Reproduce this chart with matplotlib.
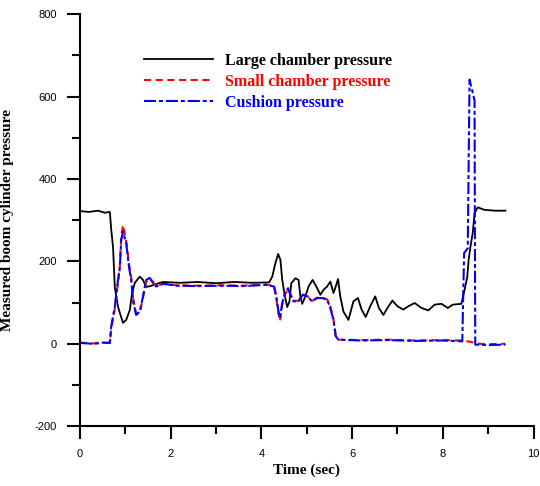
import numpy as np, matplotlib; matplotlib.use("Agg")
import matplotlib.pyplot as plt
from matplotlib.ticker import MultipleLocator

# ---- data ----
t_large = [0, 0.2, 0.4, 0.55, 0.66, 0.69, 0.73, 0.77, 0.84, 0.88, 0.95, 1.02, 1.10, 1.15, 1.21,
           1.32, 1.39, 1.46, 1.55, 1.68, 1.83, 2.2, 2.6, 3.0, 3.4, 3.8, 4.17, 4.24, 4.31, 4.37,
           4.42, 4.46, 4.52, 4.57, 4.62, 4.66, 4.75, 4.82, 4.86, 4.90, 4.97, 5.04, 5.13, 5.23,
           5.30, 5.37, 5.45, 5.52, 5.59, 5.64, 5.69, 5.74, 5.81, 5.92, 6.03, 6.13, 6.21, 6.30,
           6.40, 6.51, 6.59, 6.69, 6.78, 6.89, 7.00, 7.13, 7.24, 7.38, 7.53, 7.68, 7.82, 7.97,
           8.11, 8.22, 8.41, 8.48, 8.54, 8.57, 8.61, 8.66, 8.70, 8.77, 8.92, 9.15, 9.38]
p_large = [322, 320, 323, 318, 320, 277, 235, 136, 90, 75, 51, 58, 82, 123, 148,
           163, 155, 138, 140, 145, 150, 148, 150, 147, 150, 148, 149, 163, 196, 218,
           204, 155, 115, 89, 103, 147, 159, 155, 115, 97, 115, 139, 155, 135,
           119, 131, 139, 151, 123, 139, 157, 115, 78, 58, 103, 111, 83, 65,
           91, 115, 87, 70, 87, 105, 91, 83, 91, 99, 87, 81, 95, 97,
           87, 95, 97, 131, 163, 204, 236, 269, 317, 331, 325, 323, 323]

t_small = [0, 0.3, 0.5, 0.66, 0.69, 0.77, 0.84, 0.88, 0.91, 0.95, 1.02, 1.08, 1.13, 1.18, 1.24,
           1.32, 1.39, 1.46, 1.54, 1.61, 1.68, 1.83, 2.12, 2.6, 3.1, 3.6, 4.1, 4.28, 4.33, 4.37,
           4.41, 4.46, 4.52, 4.59, 4.64, 4.71, 4.82, 4.91, 5.01, 5.12, 5.23, 5.34, 5.45, 5.52,
           5.59, 5.64, 5.70, 6.2, 6.8, 7.4, 8.0, 8.43, 8.6, 8.8, 9.0, 9.38]
p_small = [3, 1, 2, 3, 38, 85, 150, 190, 260, 288, 250, 195, 160, 105, 72,
           75, 112, 150, 158, 150, 140, 145, 142, 141, 142, 141, 144, 140, 110, 78,
           55, 95, 120, 133, 120, 105, 104, 120, 116, 104, 112, 112, 108, 90,
           60, 20, 10, 9, 10, 8, 9, 8, 5, 0, -1, 0]

t_cush = [0, 0.3, 0.5, 0.66, 0.69, 0.77, 0.84, 0.88, 0.91, 0.95, 1.02, 1.08, 1.13, 1.18, 1.24,
          1.32, 1.39, 1.46, 1.54, 1.61, 1.68, 1.83, 2.12, 2.6, 3.1, 3.6, 4.1, 4.28, 4.33, 4.37,
          4.41, 4.46, 4.52, 4.59, 4.64, 4.71, 4.82, 4.91, 5.01, 5.12, 5.23, 5.34, 5.45, 5.52,
          5.59, 5.64, 5.70, 6.2, 6.8, 7.4, 8.0, 8.43, 8.45, 8.47, 8.55, 8.59, 8.66, 8.70,
          8.715, 9.0, 9.38]
p_cush = [2, 0, 3, 2, 42, 91, 155, 184, 252, 272, 244, 188, 155, 99, 70,
          78, 115, 155, 160, 148, 139, 146, 141, 140, 141, 140, 143, 139, 115, 83,
          62, 99, 123, 135, 119, 103, 103, 119, 115, 103, 111, 111, 107, 87,
          58, 18, 10, 8, 9, 7, 8, 6, 120, 220, 232, 641, 609, 590,
          -2, -3, -2]

labels = ["Large chamber pressure", "Small chamber pressure", "Cushion pressure"]

serif = ["Liberation Serif", "DejaVu Serif"]
plt.rcParams["font.family"] = ["Liberation Sans", "DejaVu Sans"]
plt.rcParams["axes.unicode_minus"] = False

fig = plt.figure(figsize=(5.4, 4.86), dpi=100)
ax = fig.add_axes([0.148, 0.123, 0.84, 0.848])

ax.plot(t_large, p_large, color="black", lw=1.3, label=labels[0])
ax.plot(t_small, p_small, color="red", lw=1.5, ls=(0, (3.4, 2.2)), label=labels[1])
ax.plot(t_cush, p_cush, color="blue", lw=1.5, ls=(0, (5.8, 1.4, 1.9, 1.4)), label=labels[2])

ax.set_xlim(0, 10); ax.set_ylim(-200, 800)
ax.xaxis.set_major_locator(MultipleLocator(2)); ax.xaxis.set_minor_locator(MultipleLocator(1))
ax.yaxis.set_major_locator(MultipleLocator(200)); ax.yaxis.set_minor_locator(MultipleLocator(100))
for s in ["top", "right"]: ax.spines[s].set_visible(False)
for s in ["left", "bottom"]: ax.spines[s].set_linewidth(1.5)
ax.tick_params(which="major", length=9.5, width=1.5, labelsize=8, pad=7, direction="out")
ax.tick_params(which="minor", length=5.5, width=1.5, direction="out")

ax.set_xlabel("Time (sec)", family=serif, fontweight="bold", fontsize=11, labelpad=3)
ax.set_ylabel("Measured boom cylinder pressure", family=serif, fontweight="bold", fontsize=11)
ax.yaxis.set_label_coords(-0.145, 0.5)

leg = ax.legend(loc="upper left", bbox_to_anchor=(0.142, 0.906), frameon=False,
                prop={"family": serif, "weight": "bold", "size": 11.5},
                handlelength=4.3, handletextpad=0.75, labelspacing=0.32,
                borderpad=0, borderaxespad=0, labelcolor="linecolor")

fig.savefig("out.png", dpi=100)
